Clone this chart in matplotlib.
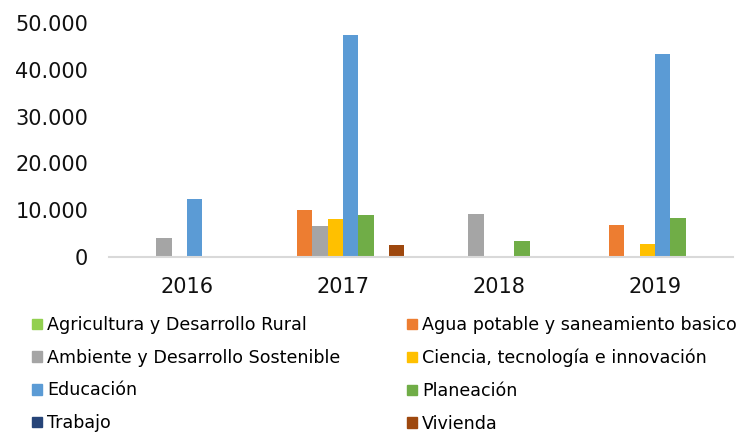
import numpy as np
import matplotlib.pyplot as plt
from matplotlib.patches import Patch
from matplotlib.ticker import FuncFormatter

plt.rcParams['font.family'] = ['DejaVu Sans']

years = ['2016', '2017', '2018', '2019']
sectors = ['Agricultura y Desarrollo Rural', 'Agua potable y saneamiento basico',
           'Ambiente y Desarrollo Sostenible', 'Ciencia, tecnología e innovación',
           'Educación', 'Planeación', 'Trabajo', 'Vivienda']
colors = ['#92D050', '#ED7D31', '#A5A5A5', '#FFC000',
          '#5B9BD5', '#70AD47', '#264478', '#9E480E']

# values per sector, one per year
agricultura = [0, 0, 0, 0]
agua = [0, 10080, 0, 6950]
ambiente = [4110, 6670, 9290, 0]
ciencia = [0, 8100, 0, 2900]
educacion = [12360, 47300, 0, 43310]
planeacion = [0, 9010, 3540, 8310]
trabajo = [0, 0, 0, 0]
vivienda = [0, 2620, 0, 0]
series = [agricultura, agua, ambiente, ciencia, educacion, planeacion, trabajo, vivienda]

fig = plt.figure(figsize=(7.49, 4.33), dpi=100)
ax = fig.add_axes([0.1455, 0.4058, 0.8331, 0.5418])

x = np.arange(len(years))
n = len(series)
w = 0.785 / n
for i, vals in enumerate(series):
    ax.bar(x - 0.785 / 2 + w * (i + 0.5), vals, w, color=colors[i], linewidth=0)

ax.set_xlim(-0.5, len(years) - 0.5)
ax.set_ylim(0, 50000)
ax.set_yticks(np.arange(0, 50001, 10000))
ax.yaxis.set_major_formatter(FuncFormatter(lambda v, p: f'{int(v):,}'.replace(',', '.')))
ax.set_xticks(x)
ax.set_xticklabels(years)
ax.tick_params(axis='both', length=0, labelsize=15, labelcolor='#111111')
ax.tick_params(axis='x', pad=14)
ax.tick_params(axis='y', pad=15)
for s in ['top', 'right', 'left']:
    ax.spines[s].set_visible(False)
ax.spines['bottom'].set_color('#D9D9D9')
ax.spines['bottom'].set_linewidth(1.5)

# legend in two columns, filled row by row
handles = [Patch(color=c) for c in colors]
legend_kw = dict(loc='upper left', frameon=False, fontsize=12.6,
                 handlelength=0.55, handleheight=0.55, handletextpad=0.3,
                 labelspacing=0.84, borderaxespad=0, borderpad=0)
left = [0, 2, 4, 6]
right = [1, 3, 5, 7]
fig.legend([handles[i] for i in left], [sectors[i] for i in left],
           bbox_to_anchor=(32 / 749, 0.27), **legend_kw)
fig.legend([handles[i] for i in right], [sectors[i] for i in right],
           bbox_to_anchor=(407 / 749, 0.27), **legend_kw)

fig.savefig('out.png', dpi=100)
